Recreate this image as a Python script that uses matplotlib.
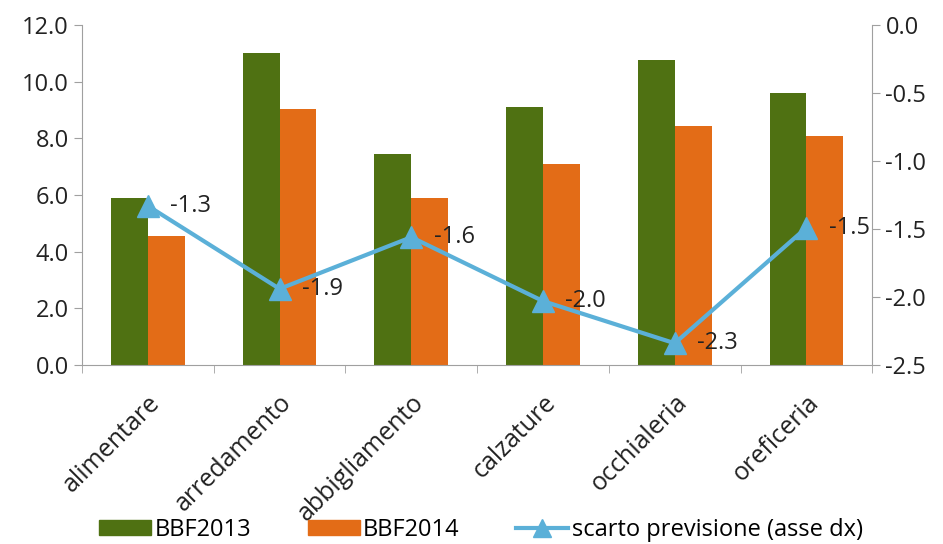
import numpy as np
import matplotlib.pyplot as plt
from matplotlib.lines import Line2D
from matplotlib.patches import Patch

plt.rcParams['font.family'] = ['Open Sans', 'DejaVu Sans']

categories = ["alimentare", "arredamento", "abbigliamento", "calzature", "occhialeria", "oreficeria"]
bbf2013 = [5.9, 11.0, 7.45, 9.1, 10.75, 9.6]
bbf2014 = [4.55, 9.05, 5.9, 7.1, 8.45, 8.1]
scarto = [-1.33, -1.94, -1.56, -2.03, -2.34, -1.49]

green = '#4f7112'
orange = '#e36c17'
blue = '#5bb0d8'
grey = '#a0a0a0'
txt = '#222222'

fig = plt.figure(figsize=(9.43, 5.44), dpi=100)
ax = fig.add_axes([0.087, 0.329, 0.838, 0.625])
ax2 = ax.twinx()

x = np.arange(len(categories))
w = 0.28
ax.bar(x - w/2, bbf2013, w, color=green, zorder=2)
ax.bar(x + w/2, bbf2014, w, color=orange, zorder=2)

ax2.plot(x, scarto, color=blue, lw=3, marker='^', ms=16, zorder=3)
for xi, v in zip(x, scarto):
    ax2.annotate("%.1f" % v, (xi, v), xytext=(16, 0), textcoords='offset points',
                 ha='left', va='center', fontsize=17, color=txt)

ax.set_xlim(-0.5, len(categories) - 0.5)
ax.set_ylim(0, 12)
ticks_l = np.arange(0, 12.1, 2)
ax.set_yticks(ticks_l)
ax.set_yticklabels(["%.1f" % t for t in ticks_l])
ax2.set_ylim(-2.5, 0)
ticks_r = np.arange(-2.5, 0.01, 0.5)
ax2.set_yticks(ticks_r)
ax2.set_yticklabels(["%.1f" % t for t in ticks_r])

ax.set_xticks(x)
ax.set_xticklabels(categories, rotation=45, ha='right', rotation_mode='anchor', fontsize=18)
ax.set_xticks(np.arange(-0.5, len(categories)), minor=True)
ax.tick_params(axis='x', which='major', length=0, pad=18, colors=txt)
ax.tick_params(axis='x', which='minor', length=6, color=grey)
ax.tick_params(axis='y', labelsize=17, length=6, color=grey, labelcolor=txt)
ax2.tick_params(axis='y', labelsize=17, length=6, color=grey, labelcolor=txt)

for a in (ax, ax2):
    a.spines['top'].set_visible(False)
    for s in ('left', 'right', 'bottom'):
        a.spines[s].set_color(grey)
ax2.spines['left'].set_visible(False)
ax2.spines['bottom'].set_visible(False)
ax.spines['right'].set_visible(False)

handles = [Patch(color=green), Patch(color=orange),
           Line2D([], [], color=blue, lw=3, marker='^', ms=13)]
labels = ["BBF2013", "BBF2014", "scarto previsione (asse dx)"]
fig.legend(handles, labels, loc='lower center', ncol=3, frameon=False, fontsize=17,
           bbox_to_anchor=(0.51, -0.035), handlelength=2.2, handleheight=0.6,
           handletextpad=0.15, columnspacing=2.4)

fig.savefig('out.png', dpi=100)
